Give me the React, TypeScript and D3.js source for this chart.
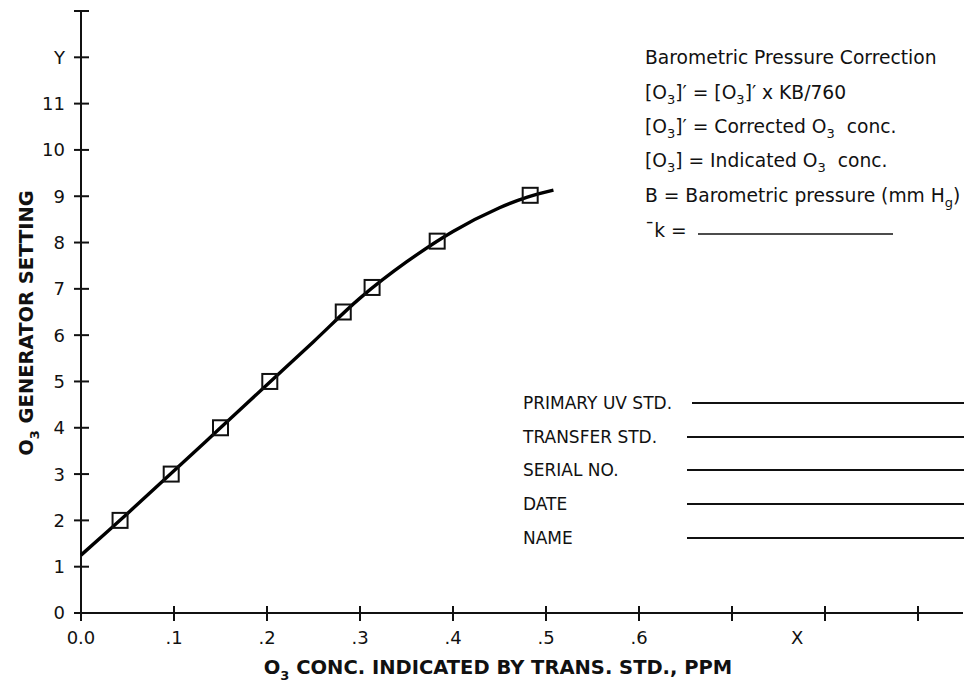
import React from "react";
import * as d3 from "d3";

const xTicks = [0, 0.1, 0.2, 0.3, 0.4, 0.5, 0.6, 0.7, 0.8, 0.9];
const xTickLabels = ["0.0", ".1", ".2", ".3", ".4", ".5", ".6", "", "", ""];
const yTicks = [0, 1, 2, 3, 4, 5, 6, 7, 8, 9, 10, 11, 12, 13];
const yTickLabels = ["0", "1", "2", "3", "4", "5", "6", "7", "8", "9", "10", "11", "Y", ""];

const pointX = [0.042, 0.097, 0.15, 0.203, 0.282, 0.313, 0.383, 0.483];
const pointY = [2, 3, 4, 5, 6.5, 7.03, 8.03, 9.02];

const curveX = [0, 0.05, 0.1, 0.15, 0.2, 0.25, 0.3, 0.35, 0.4, 0.45, 0.48, 0.508];
const curveY = [1.25, 2.15, 3.07, 4.0, 4.93, 5.86, 6.8, 7.58, 8.24, 8.75, 8.98, 9.13];

const formLabels = ["PRIMARY UV STD.", "TRANSFER STD.", "SERIAL NO.", "DATE", "NAME"];

const FONT = "'DejaVu Sans', Verdana, sans-serif";

export default function App() {
  const W = 967;
  const H = 684;
  const x = d3.scaleLinear().domain([0, 0.9]).range([81, 918]);
  const y = d3.scaleLinear().domain([0, 13]).range([613, 11]);

  const line = d3
    .line<number>()
    .x((_, i) => x(curveX[i]))
    .y((d) => y(d))
    .curve(d3.curveCatmullRom.alpha(0.5));

  const sub = (t: string) => (
    <tspan fontSize="13" dy="5">{t}</tspan>
  );

  const annX = 645;
  const annRows = [64, 99, 133, 167, 202, 237];
  const formRows = [403, 437, 470, 504, 538];

  return (
    <svg width={W} height={H} style={{ position: "absolute", left: 0, top: 0, background: "#fff" }}>
      <rect x={0} y={0} width={W} height={H} fill="#fff" />
      {/* axes */}
      <line x1={x(0)} x2={x(0)} y1={y(13)} y2={y(0)} stroke="#111" strokeWidth={2} />
      <line x1={74} x2={963} y1={y(0)} y2={y(0)} stroke="#111" strokeWidth={2} />
      {yTicks.map((t, i) => (
        <g key={"yt" + i}>
          <line x1={x(0) - 7} x2={x(0) + 8} y1={y(t)} y2={y(t)} stroke="#111" strokeWidth={2} />
          <text x={65} y={y(t)} dy="0.36em" textAnchor="end" fontFamily={FONT} fontSize={18} fill="#111">
            {yTickLabels[i]}
          </text>
        </g>
      ))}
      {xTicks.map((t, i) => (
        <g key={"xt" + i}>
          <line x1={x(t)} x2={x(t)} y1={y(0) - 7} y2={y(0) + 8} stroke="#111" strokeWidth={2} />
          <text x={x(t)} y={644} textAnchor="middle" fontFamily={FONT} fontSize={18} fill="#111">
            {xTickLabels[i]}
          </text>
        </g>
      ))}
      <text x={x(0.77)} y={644} textAnchor="middle" fontFamily={FONT} fontSize={18} fill="#111">X</text>

      {/* axis titles */}
      <text x={498} y={674} textAnchor="middle" fontFamily={FONT} fontSize={19.5} fontWeight="bold" fill="#111">
        O<tspan fontSize="13" dy="6">3</tspan><tspan dy="-6"> CONC. INDICATED BY TRANS. STD., PPM</tspan>
      </text>
      <text transform="translate(33,323) rotate(-90)" textAnchor="middle" fontFamily={FONT} fontSize={19.5} fontWeight="bold" fill="#111">
        O<tspan fontSize="13" dy="6">3</tspan><tspan dy="-6"> GENERATOR SETTING</tspan>
      </text>

      {/* curve */}
      <path d={line(curveY) || ""} fill="none" stroke="#000" strokeWidth={3.4} />
      {pointX.map((px, i) => (
        <rect key={"p" + i} x={x(px) - 7.5} y={y(pointY[i]) - 7.5} width={15} height={15} fill="none" stroke="#111" strokeWidth={2} />
      ))}

      {/* annotation */}
      <g fontFamily={FONT} fontSize={18.7} fill="#111">
        <text x={annX} y={annRows[0]}>Barometric Pressure Correction</text>
        <text x={annX} y={annRows[1]}>
          [O{sub("3")}<tspan dy="-5">]′ = [O</tspan>{sub("3")}<tspan dy="-5">]′ x KB/760</tspan>
        </text>
        <text x={annX} y={annRows[2]}>
          [O{sub("3")}<tspan dy="-5">]′ = Corrected O</tspan>{sub("3")}<tspan dy="-5">{"\u00a0 conc."}</tspan>
        </text>
        <text x={annX} y={annRows[3]}>
          [O{sub("3")}<tspan dy="-5">] = Indicated O</tspan>{sub("3")}<tspan dy="-5">{"\u00a0 conc."}</tspan>
        </text>
        <text x={annX} y={annRows[4]}>
          B = Barometric pressure (mm H{sub("g")}<tspan dy="-5">)</tspan>
        </text>
        <text x={annX} y={annRows[5]}>¯k =</text>
        <line x1={698} x2={893} y1={234} y2={234} stroke="#111" strokeWidth={1.5} />
      </g>

      {/* form */}
      <g fontFamily={FONT} fontSize={17} fill="#111">
        {formLabels.map((l, i) => (
          <g key={"f" + i}>
            <text x={523} y={formRows[i]} dy="0.36em">{l}</text>
            <line x1={i === 0 ? 692 : 687} x2={964} y1={formRows[i]} y2={formRows[i]} stroke="#111" strokeWidth={2} />
          </g>
        ))}
      </g>
    </svg>
  );
}
